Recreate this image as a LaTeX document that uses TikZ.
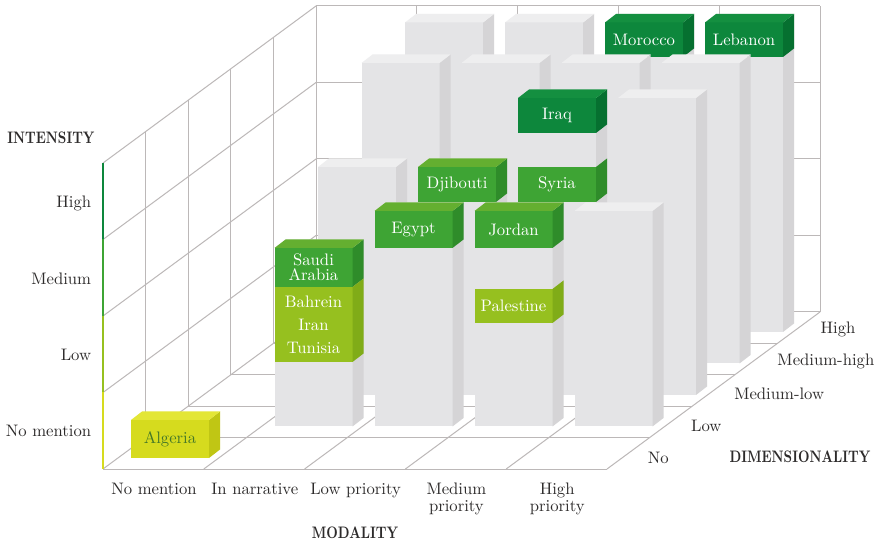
\documentclass[tikz,border=0pt]{standalone}

\definecolor{gridgray}{RGB}{188,184,184}
\definecolor{txtgray}{RGB}{45,43,43}
\definecolor{greyF}{RGB}{228,228,230}
\definecolor{greyS}{RGB}{213,212,214}
\definecolor{greyT}{RGB}{238,238,239}
\definecolor{dkgF}{RGB}{13,135,60}
\definecolor{dkgS}{RGB}{6,112,48}
\definecolor{dkgT}{RGB}{20,143,64}
\definecolor{grnF}{RGB}{62,164,52}
\definecolor{grnS}{RGB}{47,140,42}
\definecolor{grnT}{RGB}{100,175,48}
\definecolor{limF}{RGB}{150,192,31}
\definecolor{limS}{RGB}{128,172,24}
\definecolor{limT}{RGB}{166,201,42}
\definecolor{ylwF}{RGB}{214,219,30}
\definecolor{ylwS}{RGB}{192,198,20}
\definecolor{ylwT}{RGB}{227,230,54}
\definecolor{algtext}{RGB}{70,120,40}

% position of a bar: column, row
\newcommand{\barpos}[2]{%
  \pgfmathsetmacro{\barx}{131+100*#1+43.5*#2}%
  \pgfmathsetmacro{\bary}{458-31.5*#2}}
% grey bar: column, row, top
\newcommand{\greybar}[3]{%
  \barpos{#1}{#2}
  \fill[greyF] (\barx,\bary) rectangle (\barx+78,#3);
  \fill[greyS] (\barx+78,\bary) -- (\barx+78,#3) -- (\barx+89,#3-8.5) -- (\barx+89,\bary-8.5) -- cycle;
  \fill[greyT] (\barx,#3) -- (\barx+11,#3-8.5) -- (\barx+89,#3-8.5) -- (\barx+78,#3) -- cycle;}
% coloured block: [opts] column, row, top, bottom, colour, name, text
\newcommand{\colblock}[8][]{%
  \barpos{#2}{#3}
  \fill[#6F] (\barx,#5) rectangle (\barx+78,#4);
  \fill[#6S] (\barx+78,#5) -- (\barx+78,#4) -- (\barx+89,#4-8.5) -- (\barx+89,#5-8.5) -- cycle;
  \node[country,#1] (#7) at (\barx+39,{(#4+#5)/2}) {#8};}
% top face of a coloured block: column, row, top, colour
\newcommand{\coltop}[4]{%
  \barpos{#1}{#2}
  \fill[#4T] (\barx,#3) -- (\barx+11,#3-8.5) -- (\barx+89,#3-8.5) -- (\barx+78,#3) -- cycle;}
% axis heading, narrow bold caps
\newcommand{\headtext}[1]{\scalebox{0.8}[1]{\bfseries #1}}

\begin{document}
\begin{tikzpicture}[x=0.6pt,y=-0.6pt,
  gridline/.style={gridgray, line width=0.6pt},
  lbl/.style={text=txtgray, font=\fontsize{10}{10}\selectfont},
  axis/.style={text=txtgray, font=\fontsize{10}{12}\selectfont},
  country/.style={text=white, font=\fontsize{10}{9}\selectfont, align=center, inner sep=0pt}]

\fill[white] (0,0) rectangle (878,545);
\useasboundingbox (0,0) rectangle (878,545);

% floor
\foreach \j in {0,...,5}
\draw[gridline] (103+42.6*\j,469-31.4*\j) -- +(504,0);
\foreach \i in {0,...,5}
\draw[gridline] (103+100.8*\i,469) -- +(213,-157);
% left wall
\foreach \j in {1,...,5}
\draw[gridline] (103+42.6*\j,469-31.4*\j) -- +(0,-306);
\foreach \k in {1,...,4}
\draw[gridline] (103,469-76.5*\k) -- +(213,-157);
% back wall
\foreach \i in {1,...,5}
\draw[gridline] (316+100.8*\i,312) -- +(0,-306);
\foreach \k in {1,...,4}
\draw[gridline] (316,312-76.5*\k) -- +(504,0);

% intensity scale
\draw[line width=1.4pt, ylwF] (103,469) -- (103,392.5);
\draw[line width=1.4pt, limF] (103,392.5) -- (103,316);
\draw[line width=1.4pt, grnF] (103,316) -- (103,239.5);
\draw[line width=1.4pt, dkgF] (103,239.5) -- (103,163);

% row: high
\foreach \i in {1,...,4} {\greybar{\i}{4}{22.5}}
\colblock{3}{4}{22.5}{57}{dkg}{morocco}{Morocco}
\coltop{3}{4}{22.5}{dkg}
\colblock{4}{4}{22.5}{57}{dkg}{lebanon}{Lebanon}
\coltop{4}{4}{22.5}{dkg}

% row: medium-high
\foreach \i in {1,...,4} {\greybar{\i}{3}{63}}

% row: medium-low
\foreach \i/\t in {1/167,2/167,3/98,4/98} {\greybar{\i}{2}{\t}}
\colblock{2}{2}{167}{202}{grn}{djibouti}{Djibouti}
\coltop{2}{2}{167}{grn}
\colblock{3}{2}{98}{133}{dkg}{iraq}{Iraq}
\coltop{3}{2}{98}{dkg}
\colblock{3}{2}{167}{202}{grn}{syria}{Syria}

% row: low
\foreach \i/\t in {1/248,2/211,3/211,4/211} {\greybar{\i}{1}{\t}}
\colblock{1}{1}{248}{287}{grn}{saudi}{Saudi\\Arabia}
\coltop{1}{1}{248}{grn}
\colblock[font=\fontsize{10}{13.8}\selectfont]{1}{1}{287}{362}{lim}{bahrein}{Bahrein\\Iran\\Tunisia}
\colblock{2}{1}{211}{248}{grn}{egypt}{Egypt}
\coltop{2}{1}{211}{grn}
\colblock{3}{1}{211}{248}{grn}{jordan}{Jordan}
\coltop{3}{1}{211}{grn}
\colblock{3}{1}{289}{323}{lim}{palestine}{Palestine}

% row: no
\colblock[text=algtext]{0}{0}{420}{458}{ylw}{algeria}{Algeria}
\coltop{0}{0}{420}{ylw}

% intensity labels
\node[axis] (intensity) at (51,138) {\headtext{INTENSITY}};
\foreach \k/\n/\txt in {0/inone/No mention,1/ilow/Low,2/imed/Medium,3/ihigh/High}
\node[lbl, anchor=east] (\n) at (97,431-76*\k) {\txt};

% modality labels
\foreach \i/\n/\txt in {0/mnone/No mention,1/mnarr/In narrative,2/mlow/Low priority,
  3/mmed/Medium\\priority,4/mhigh/High\\priority}
\node[lbl, anchor=north, align=center] (\n) at (154+100.8*\i,477) {\txt};
\node[axis] (modality) at (355,533) {\headtext{MODALITY}};

% dimensionality labels
\foreach \j/\n/\txt in {0/dno/No,1/dlow/Low,2/dml/Medium-low,3/dmh/Medium-high,4/dhigh/High}
\node[lbl, anchor=west] (\n) at (642+43.2*\j,458-32.2*\j) {\txt};
\node[axis] (dimensionality) at (800,457) {\headtext{DIMENSIONALITY}};
\end{tikzpicture}
\end{document}
